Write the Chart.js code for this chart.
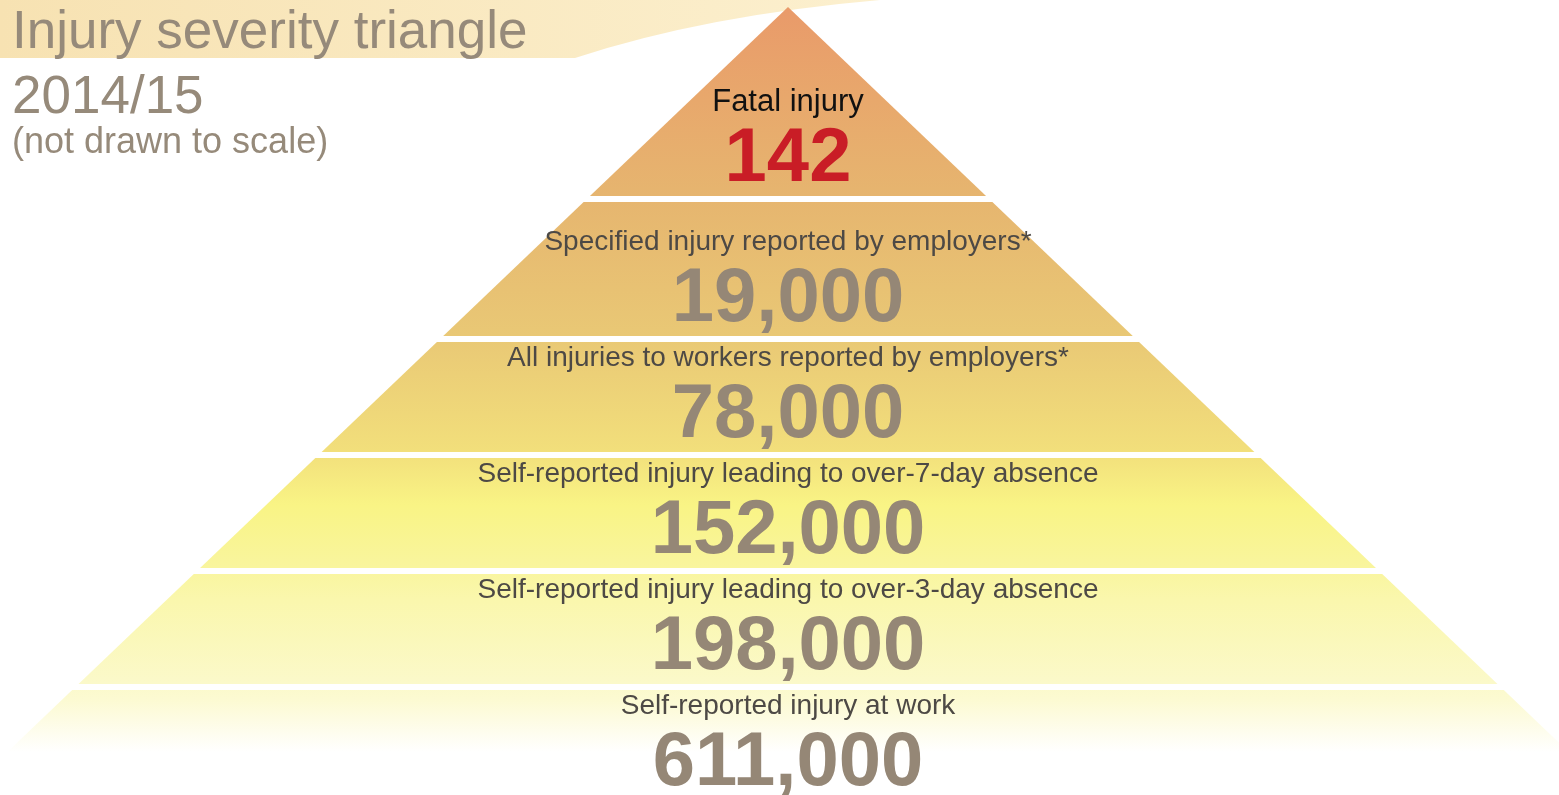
<!DOCTYPE html>
<html>
<head>
<meta charset="utf-8">
<title>Injury severity triangle</title>
<script src="https://cdn.jsdelivr.net/npm/chart.js@4/dist/chart.umd.min.js"></script>
<style>
  html, body { margin: 0; padding: 0; background: #fff; }
  #wrap { position: relative; width: 1559px; height: 795px; overflow: hidden; }
  #pyramid { position: absolute; left: 0; top: 0; }
  .head { position: absolute; left: 12px; margin: 0; color: #968a7a; font-family: "Liberation Sans", Arial, sans-serif; font-weight: normal; white-space: nowrap; }
  #title { top: 3px; font-size: 53px; line-height: 53px; }
  #year { top: 68px; font-size: 53px; line-height: 53px; }
  #note { top: 123px; font-size: 36px; line-height: 36px; }
</style>
</head>
<body>
<div id="wrap">
  <canvas id="pyramid" width="1559" height="795"></canvas>
  <h1 class="head" id="title">Injury severity triangle</h1>
  <div class="head" id="year">2014/15</div>
  <div class="head" id="note">(not drawn to scale)</div>
</div>
<script>
// levels, from the top of the triangle down
const levelLabels = [
  'Fatal injury',
  'Specified injury reported by employers*',
  'All injuries to workers reported by employers*',
  'Self-reported injury leading to over-7-day absence',
  'Self-reported injury leading to over-3-day absence',
  'Self-reported injury at work'
];
const levelValues = [142, 19000, 78000, 152000, 198000, 611000];

// drawing geometry (axis units, not to scale)
const APEX_Y = 7;
const SLOPE = 1.048;          // half width per unit of height
const bandHeights = [189, 134, 110, 110, 110, 110];
const GAP = 6;

const halfWidth = y => (y - APEX_Y) * SLOPE;

const bands = [];
let bandTop = APEX_Y;
bandHeights.forEach(h => {
  bands.push({ top: bandTop, bottom: bandTop + h });
  bandTop = bandTop + h + GAP;
});

let fillGradient = null;
function pyramidFill(context) {
  const chart = context.chart;
  if (!chart.chartArea) return 'rgba(0,0,0,0)';
  if (fillGradient) return fillGradient;
  const y = chart.scales.y;
  const y0 = y.getPixelForValue(APEX_Y);
  const y1 = y.getPixelForValue(752);
  const g = chart.ctx.createLinearGradient(0, y0, 0, y1);
  const stop = (v, c) => g.addColorStop((y.getPixelForValue(v) - y0) / (y1 - y0), c);
  stop(7, '#e99a6a');
  stop(100, '#e8a86c');
  stop(196, '#e6b56f');
  stop(336, '#e9c875');
  stop(452, '#f2df7b');
  stop(505, '#f9f485');
  stop(568, '#f9f59e');
  stop(600, '#faf7ad');
  stop(684, '#fbf9ca');
  stop(700, '#fcfad2');
  stop(752, '#ffffff');
  fillGradient = g;
  return g;
}

const datasets = levelLabels.map((label, i) => {
  const b = bands[i];
  const wt = halfWidth(b.top), wb = halfWidth(b.bottom);
  return {
    label: label,
    data: [
      { x: -wb, y: b.bottom },
      { x: -wt, y: b.top },
      { x: wt, y: b.top },
      { x: wb, y: b.bottom },
      { x: -wb, y: b.bottom }
    ],
    showLine: true,
    fill: 'shape',
    backgroundColor: pyramidFill,
    borderWidth: 0,
    borderColor: 'rgba(0,0,0,0)',
    pointRadius: 0,
    tension: 0
  };
});

// beige swoosh behind the heading
const swoosh = {
  id: 'swoosh',
  beforeDatasetsDraw(chart) {
    const c = chart.ctx;
    c.save();
    const g = c.createLinearGradient(0, 0, 900, 0);
    g.addColorStop(0, '#f7e2b2');
    g.addColorStop(1, '#fcf0cf');
    c.fillStyle = g;
    c.beginPath();
    c.moveTo(0, 0);
    c.lineTo(0, 58);
    c.lineTo(575, 58);
    c.quadraticCurveTo(715, 12, 905, -2);
    c.lineTo(905, 0);
    c.closePath();
    c.fill();
    c.restore();
  }
};

// level names and counts
const levelText = {
  id: 'levelText',
  afterDatasetsDraw(chart) {
    const c = chart.ctx;
    const xs = chart.scales.x, ys = chart.scales.y;
    const cx = xs.getPixelForValue(0);
    c.save();
    c.textAlign = 'center';
    c.textBaseline = 'middle';
    levelLabels.forEach((label, i) => {
      const b = bands[i];
      const first = i === 0;
      c.fillStyle = first ? '#111111' : '#4d4945';
      c.font = (first ? '31px' : '28px') + ' "Liberation Sans", Arial, sans-serif';
      c.fillText(label, cx, ys.getPixelForValue(b.bottom - 93.5));
      c.fillStyle = first ? '#c91d26' : '#958776';
      c.font = 'bold 76px "Liberation Sans", Arial, sans-serif';
      c.fillText(levelValues[i].toLocaleString('en-GB'), cx, ys.getPixelForValue(b.bottom - 35.5));
    });
    c.restore();
  }
};

new Chart(document.getElementById('pyramid'), {
  type: 'scatter',
  data: { datasets: datasets },
  options: {
    responsive: false,
    maintainAspectRatio: false,
    animation: false,
    layout: { padding: 0 },
    scales: {
      x: { type: 'linear', min: -788, max: 771, display: false },
      y: { type: 'linear', min: 0, max: 795, reverse: true, display: false }
    },
    plugins: {
      legend: { display: false },
      tooltip: { enabled: false },
      title: { display: false }
    }
  },
  plugins: [swoosh, levelText]
});
</script>
</body>
</html>
